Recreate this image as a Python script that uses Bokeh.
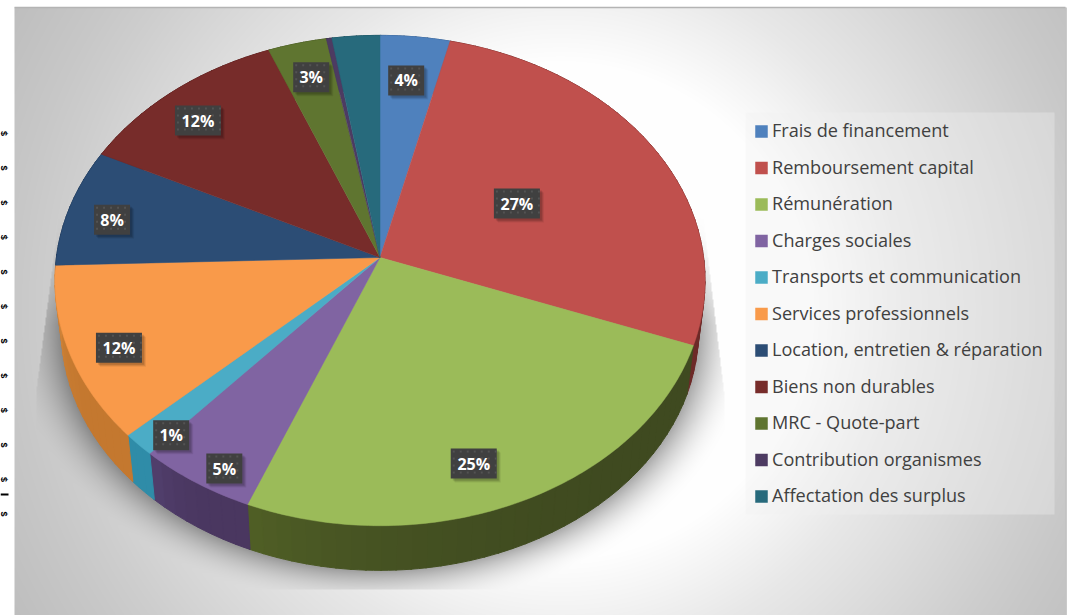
import math
import numpy as np
from bokeh.plotting import figure
from bokeh.models import Range1d
from bokeh.core.properties import value
from bokeh.embed import file_html
from bokeh.resources import INLINE

# ---- data -------------------------------------------------------------
categories = ["Frais de financement", "Remboursement capital", "Rémunération",
              "Charges sociales", "Transports et communication",
              "Services professionnels", "Location, entretien & réparation",
              "Biens non durables", "MRC - Quote-part",
              "Contribution organismes", "Affectation des surplus"]
shares = [3.8, 26.9, 25.4, 5.4, 1.5, 11.5, 7.8, 11.6, 3.2, 0.3, 2.6]
labels = ["4%", "27%", "25%", "5%", "1%", "12%", "8%", "12%", "3%", "", ""]

# ---- style ------------------------------------------------------------
face = ["#4f81bd", "#c0504d", "#9bbb59", "#8064a2", "#4bacc6", "#f99a4a",
        "#2c4d75", "#772c2a", "#5f7530", "#4d3b62", "#276a7c"]
wall_a = ["#3a5f8c", "#6d2a28", "#3f4a20", "#4a3760", "#2f8ca8", "#c4782f",
          "#1e3552", "#531e1d", "#43521f", "#352a45", "#1b4a57"]
wall_b = ["#3a5f8c", "#6d2a28", "#505f26", "#52406e", "#2f8ca8", "#d4893e",
          "#1e3552", "#531e1d", "#43521f", "#352a45", "#1b4a57"]
label_radius = [.787, .488, .83, .918, .913, .858, .855, .841, .829, 0, 0]
label_nudge = [-.5, .2, 4.9, -2.7, -2.7, -2.2, -1.6, -2.1, .2, 0, 0]

W, H = 1067, 615
CX, CY, A, B, T = 379.5, 257.0, 323.6, 243.0, 0.094
SHRINK, DROP = 0.98, 50.0


def py(sy):
    return H - sy


def project(theta, r=1.0):
    x, y = r * np.sin(theta), r * np.cos(theta)
    w = 1 + T * y
    return CX + A * x / w, CY - B * y / w


def lower(sx, sy):
    return CX + (sx - CX) * SHRINK, CY + (sy - CY) * SHRINK + DROP


# ---- background + shadow, computed per pixel ---------------------------
yy, xx = np.mgrid[0:H, 0:W]
sx_grid, sy_grid = xx + .5, H - yy - .5
dist = np.hypot(sx_grid - 560, sy_grid - 310)
grey = np.interp(dist, [0, 250, 350, 505, 546, 620, 700], [255, 254, 232, 206, 200, 191, 186])
ratio = np.hypot((sx_grid - CX) / 318.5, (sy_grid - 329.5) / 240)
d = (ratio - 1) * 280
alpha = .34 * np.clip(1 - np.clip(d, 0, None) / 46, 0, 1) ** 2
alpha *= np.clip((sy_grid - 215) / 110, 0, 1)
left_edge = 36 + np.clip(390 - sy_grid, 0, None) * .13
right_edge = 724 - np.clip(395 - sy_grid, 0, None) * .12
alpha[(sx_grid < left_edge) | (sx_grid > right_edge) | (sy_grid > 589)] = 0
grey = grey * (1 - alpha)
card = (sx_grid >= 14) & (sx_grid <= 1065) & (sy_grid >= 7)
rgba = np.zeros((H, W), dtype=np.uint32)
view = rgba.view(np.uint8).reshape(H, W, 4)
g = np.where(card, grey, 255).astype(np.uint8)
view[..., 0] = g
view[..., 1] = g
view[..., 2] = g
view[..., 3] = 255

p = figure(width=W, height=H, x_range=Range1d(0, W), y_range=Range1d(0, H),
           output_backend="svg", toolbar_location=None, min_border=0,
           margin=(0, 0, 0, 0), background_fill_color="white",
           border_fill_color="white", outline_line_color=None)
p.axis.visible = False
p.grid.visible = False
p.image_rgba(image=[rgba], x=0, y=0, dw=W, dh=H)

# card edges
p.line([14, 1065], [py(7), py(7)], line_color="#b4b4b4", line_width=1.5)
p.line([1065.5, 1065.5], [py(7), 0], line_color="#b8b8b8", line_width=1.5)

# stray marks at the left page edge
stray_rows = 12
p.text(x=[3.5] * stray_rows, y=[py(133 + i * 34.6) for i in range(stray_rows)],
       text=["$"] * stray_rows, angle=-math.pi / 2, text_font=value("Liberation Sans"),
       text_font_size="9px", text_font_style="bold", text_color="#000000",
       text_align="center", text_baseline="middle")
p.line([0, 8], [py(494), py(494)], line_color="black", line_width=2)

# ---- pie -----------------------------------------------------------------
total = sum(shares)
edges = np.concatenate([[0], np.cumsum(shares)]) / total * 2 * math.pi

# side walls (drawn first, faces cover the hidden back part)
for i in range(len(shares)):
    t0, t1 = edges[i], edges[i + 1]
    n = max(2, int((t1 - t0) / math.radians(2.5)) + 1)
    ts = np.linspace(t0, t1, n + 1)
    ca = np.array([int(wall_a[i][k:k + 2], 16) for k in (1, 3, 5)], float)
    cb = np.array([int(wall_b[i][k:k + 2], 16) for k in (1, 3, 5)], float)
    xs, ys, cols = [], [], []
    for j in range(n):
        seg = np.linspace(ts[j], ts[j + 1] + .004, 3)
        sx, sy = project(seg)
        lx, ly = lower(sx, sy)
        xs.append(list(sx) + list(lx[::-1]))
        ys.append([py(v) for v in sy] + [py(v) for v in ly[::-1]])
        f = ((j + .5) / n) ** 3
        c = ca + (cb - ca) * f
        cols.append("#%02x%02x%02x" % tuple(int(v) for v in c))
    p.patches(xs, ys, fill_color=cols, line_color=cols, line_width=1)

# top faces
for i in range(len(shares)):
    n = max(2, int(math.degrees(edges[i + 1] - edges[i])) + 1)
    sx, sy = project(np.linspace(edges[i], edges[i + 1], n))
    p.patch([CX] + list(sx), [py(CY)] + [py(v) for v in sy],
            fill_color=face[i], line_color=face[i], line_width=.5)

# ---- data labels -----------------------------------------------------------
for i, lab in enumerate(labels):
    if not lab:
        continue
    mid = (edges[i] + edges[i + 1]) / 2 + math.radians(label_nudge[i])
    sx, sy = project(mid, label_radius[i])
    sx, sy = float(sx), float(sy)
    bw = 36 if len(lab) == 2 else 46
    bh = 30
    for off, al in ((4, .07), (3, .10), (2, .12)):
        p.rect(sx + off, py(sy + off), bw, bh, fill_color="black", fill_alpha=al, line_color=None)
    p.rect(sx, py(sy), bw, bh, fill_color="#404040", line_color=None)
    dx = np.arange(-bw / 2 + 3, bw / 2, 7)
    dy = np.arange(-bh / 2 + 3, bh / 2, 7)
    gx, gy = np.meshgrid(dx, dy)
    p.rect((sx + gx).ravel(), [py(v) for v in (sy + gy).ravel()], 2, 2,
           fill_color="#535353", line_color=None)
    p.text([sx], [py(sy)], text=[lab], text_color="white", text_font=value("Open Sans"),
           text_font_style="bold", text_font_size="16px", text_align="center",
           text_baseline="middle")

# ---- legend -----------------------------------------------------------------
p.quad(left=745, right=1054, top=py(112), bottom=py(514), fill_color="#f0f0f0",
       fill_alpha=.35, line_color=None)
for i, name in enumerate(categories):
    y = py(131 + i * 36.5)
    p.rect(761, y, 12.5, 12.5, fill_color=face[i], line_color=None)
    p.text([771.5], [y + 1.5], text=[name], text_color="#404040", text_font=value("Open Sans"),
           text_font_size="18.1px", text_align="left", text_baseline="middle")

open("out.html", "w").write(file_html(p, INLINE))
